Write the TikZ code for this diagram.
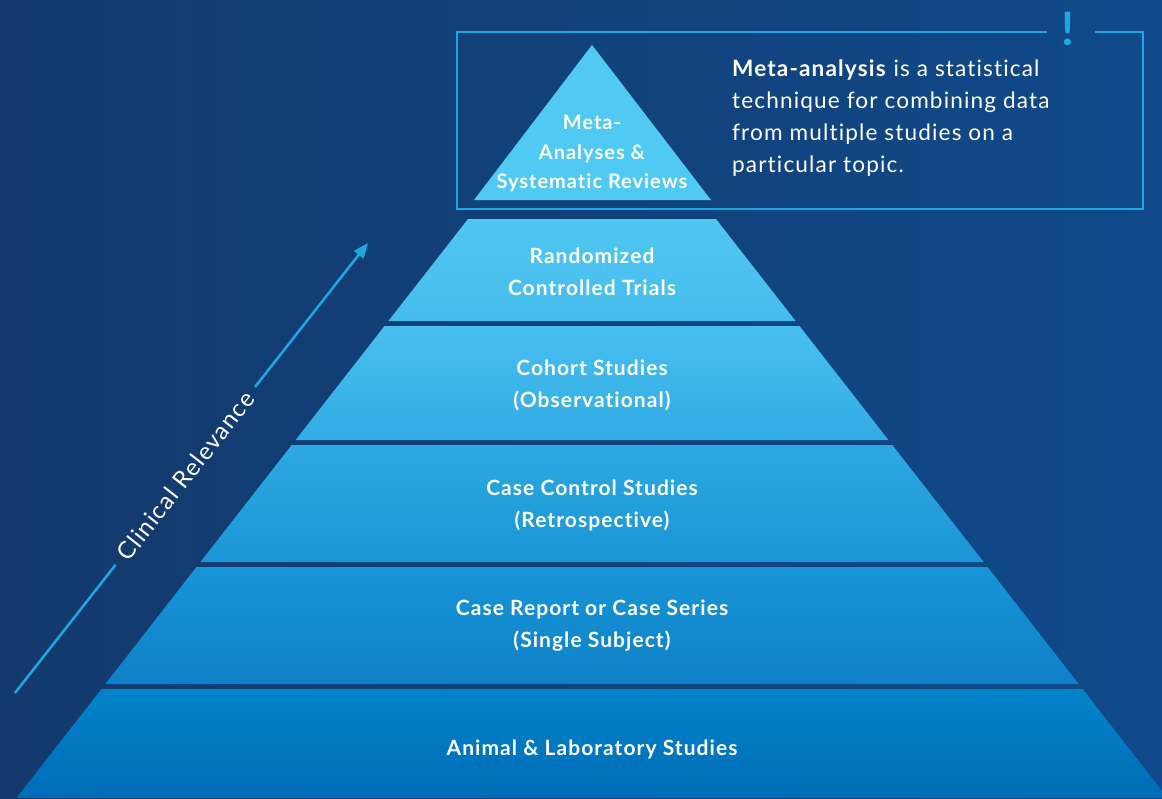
\documentclass[tikz,border=0pt]{standalone}
\usepackage{fontspec}
\setmainfont{Lato}[Ligatures=NoCommon]
\newfontfamily\spacedfont{Lato}[Ligatures=NoCommon,LetterSpace=5]
\usetikzlibrary{arrows.meta,calc}
\definecolor{bgL}{RGB}{19,57,108}
\definecolor{bgR}{RGB}{16,74,138}
\definecolor{accent}{RGB}{30,168,225}
\definecolor{tri}{RGB}{80,201,243}
\definecolor{lA}{RGB}{80,199,242}
\definecolor{lB}{RGB}{70,188,236}
\definecolor{lC}{RGB}{72,191,240}
\definecolor{lD}{RGB}{50,172,228}
\definecolor{lE}{RGB}{46,168,226}
\definecolor{lF}{RGB}{26,150,214}
\definecolor{lG}{RGB}{24,150,215}
\definecolor{lH}{RGB}{14,128,199}
\definecolor{lI}{RGB}{2,132,201}
\definecolor{lJ}{RGB}{0,108,183}
\begin{document}
\begin{tikzpicture}[x=1pt,y=-1pt,
  lbl/.style={text=white,font=\spacedfont\fontsize{21}{24}\selectfont\bfseries,inner sep=0pt,anchor=base},
  tlbl/.style={lbl,font=\spacedfont\fontsize{20}{24}\selectfont\bfseries},
  desc/.style={text=white,font=\spacedfont\fontsize{22.6}{26}\selectfont,inner sep=0pt,anchor=base west},
  frame/.style={draw=accent,line width=2pt},
  relarrow/.style={draw=accent,line width=2.5pt}]
% background
\shade[left color=bgL,right color=bgR] (0,0) rectangle (1162,798);
\useasboundingbox (0,0) rectangle (1162,798);
% top triangle
\fill[tri] (592,45) -- (711,200) -- (474,200) -- cycle;
% layers
\shade[top color=lA,bottom color=lB] (468,219) -- (716,219) -- (795.6,321) -- (388.4,321) -- cycle;
\shade[top color=lC,bottom color=lD] (384.5,326) -- (799.5,326) -- (888.4,440) -- (295.6,440) -- cycle;
\shade[top color=lE,bottom color=lF] (291.7,445) -- (892.3,445) -- (983.6,562) -- (200.4,562) -- cycle;
\shade[top color=lG,bottom color=lH] (196.5,567) -- (987.5,567) -- (1078.7,684) -- (105.3,684) -- cycle;
\shade[top color=lI,bottom color=lJ] (101.4,689) -- (1082.6,689) -- (1167.6,798) -- (16.4,798) -- cycle;
% frame with gap
\coordinate (fgA) at (1047,32);
\coordinate (fgB) at (1095,32);
\coordinate (fTL) at (457,32);
\coordinate (fBL) at (457,209);
\coordinate (fBR) at (1143,209);
\coordinate (fTR) at (1143,32);
\draw[frame] (fgA) -- (fTL) -- (fBL) -- (fBR) -- (fTR) -- (fgB);
\node[text=accent,font=\fontsize{46}{46}\selectfont\bfseries,inner sep=0pt,anchor=base] (excl) at (1068,45) {!};
% labels in pyramid
\node[tlbl] (m1) at (592,129) {Meta-};
\node[tlbl] (m2) at (592,159) {Analyses \&};
\node[tlbl] (m3) at (592,188) {Systematic Reviews};
\node[lbl] (r1) at (592,263) {Randomized};
\node[lbl] (r2) at (592,295) {Controlled Trials};
\node[lbl] (c1) at (592,375) {Cohort Studies};
\node[lbl] (c2) at (592,407) {(Observational)};
\node[lbl] (cc1) at (592,495) {Case Control Studies};
\node[lbl] (cc2) at (592,527) {(Retrospective)};
\node[lbl] (cr1) at (592,615) {Case Report or Case Series};
\node[lbl] (cr2) at (592,647) {(Single Subject)};
\node[lbl] (an) at (592,755) {Animal \& Laboratory Studies};
% description
\node[desc] (d1) at (732,76) {\textbf{Meta-analysis} is a statistical};
\node[desc] (d2) at (732,108) {technique for combining data};
\node[desc] (d3) at (732,140) {from multiple studies on a};
\node[desc] (d4) at (732,172) {particular topic.};
% clinical relevance arrow
\coordinate (arrA) at (15,693);
\coordinate (arrB) at (368,243);
\coordinate (gap1) at ($(arrA)!0.285!(arrB)$);
\coordinate (gap2) at ($(arrA)!0.68!(arrB)$);
\draw[relarrow] (arrA) -- (gap1);
\draw[relarrow,-{Triangle[length=15pt,width=12pt]}] (gap2) -- (arrB);
\node[text=white,font=\spacedfont\fontsize{24}{26}\selectfont,rotate=51.9,inner sep=0pt] (cl) at ($(arrA)!0.483!(arrB)$) {Clinical Relevance};
\end{tikzpicture}
\end{document}
